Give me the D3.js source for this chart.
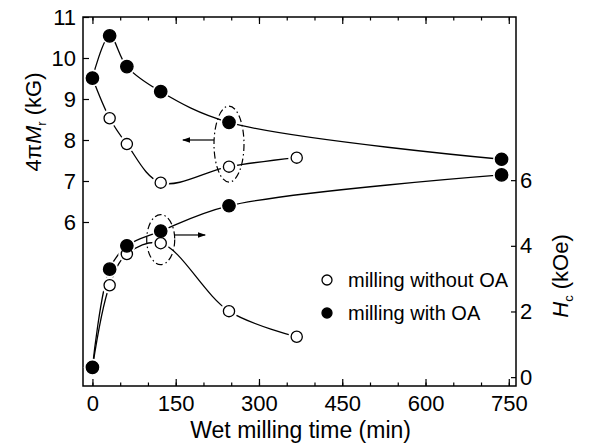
<!DOCTYPE html>
<html>
<head>
<meta charset="utf-8">
<script src="https://cdn.jsdelivr.net/npm/d3@7"></script>
<style>
  body { margin: 0; background: #fff; }
  svg text { font-family: "Liberation Sans", Arial, sans-serif; fill: #000; }
</style>
</head>
<body>
<svg id="chart" width="593" height="448"></svg>
<script>
// milling time (min)
const timesNoOA = [0, 31, 62, 123, 246, 368];
const timesOA = [0, 31, 62, 123, 246, 737];

// 4*pi*Mr (kG), left axis
const mrNoOA = [9.51, 8.53, 7.90, 6.96, 7.35, 7.57];
const mrOA = [9.51, 10.54, 9.79, 9.18, 8.43, 7.53];

// Hc (kOe), right axis
const hcNoOA = [0.3, 2.8, 3.75, 4.08, 2.01, 1.23];
const hcOA = [0.3, 3.29, 4.0, 4.45, 5.22, 6.16];

const xMajor = [0, 150, 300, 450, 600, 750];
const xMinor = d3.range(0, 751, 50);
const leftTicks = [6, 7, 8, 9, 10, 11];
const rightTicks = [0, 2, 4, 6];

const legendLabels = ["milling without OA", "milling with OA"];

const svg = d3.select("#chart");
const mLeft = 83, mRight = 516, mTop = 17, mBottom = 386;

const x = d3.scaleLinear().domain([-17, 763]).range([mLeft, mRight]);
const yL = d3.scaleLinear().domain([2, 11]).range([mBottom, mTop]);
const yR = d3.scaleLinear().domain([-0.27, 10.97]).range([mBottom, mTop]);

// axes
svg.append("g").attr("transform", `translate(0,${mBottom})`)
    .call(d3.axisBottom(x).tickValues(xMinor).tickSize(-3.5).tickFormat(""));
svg.append("g").attr("transform", `translate(0,${mBottom})`)
    .call(d3.axisBottom(x).tickValues(xMajor).tickSize(-7).tickPadding(9));
svg.append("g").attr("transform", `translate(0,${mTop})`)
    .call(d3.axisTop(x).tickValues(xMinor).tickSize(-3.5).tickFormat(""));
svg.append("g").attr("transform", `translate(0,${mTop})`)
    .call(d3.axisTop(x).tickValues(xMajor).tickSize(-7).tickFormat(""));
svg.append("g").attr("transform", `translate(${mLeft},0)`)
    .call(d3.axisLeft(yL).tickValues(leftTicks).tickSize(-6).tickPadding(7));
svg.append("g").attr("transform", `translate(${mRight},0)`)
    .call(d3.axisRight(yR).tickValues(rightTicks).tickSize(-5).tickPadding(4));

svg.selectAll(".domain").remove();
svg.selectAll(".tick line").attr("stroke", "#000").attr("stroke-width", 1.2);
svg.selectAll(".tick text").attr("font-size", 22).attr("font-family", "Liberation Sans, Arial, sans-serif");

svg.append("rect")
    .attr("x", mLeft).attr("y", mTop)
    .attr("width", mRight - mLeft).attr("height", mBottom - mTop)
    .attr("fill", "none").attr("stroke", "#000").attr("stroke-width", 1.5);

// axis titles
svg.append("text")
    .attr("x", (x(0) + x(750)) / 2).attr("y", 438)
    .attr("text-anchor", "middle").attr("font-size", 23)
    .text("Wet milling time (min)");

const tl = svg.append("text")
    .attr("transform", "translate(41,122) rotate(-90)")
    .attr("text-anchor", "middle").attr("font-size", 22);
tl.append("tspan").text("4\u03c0");
tl.append("tspan").attr("font-style", "italic").text("M");
tl.append("tspan").attr("font-size", 13).attr("dy", 5).text("r");
tl.append("tspan").attr("dy", -5).text(" (kG)");

const tr = svg.append("text")
    .attr("transform", "translate(568,276) rotate(-90)")
    .attr("text-anchor", "middle").attr("font-size", 22);
tr.append("tspan").attr("font-style", "italic").text("H");
tr.append("tspan").attr("font-size", 13).attr("dy", 5).text("c");
tr.append("tspan").attr("dy", -5).text("  (kOe)");

// curves
const series = [
  { t: timesNoOA, v: mrNoOA, y: yL, filled: false },
  { t: timesOA, v: mrOA, y: yL, filled: true },
  { t: timesNoOA, v: hcNoOA, y: yR, filled: false },
  { t: timesOA, v: hcOA, y: yR, filled: true }
];

const line = d3.line().curve(d3.curveCatmullRom.alpha(0.5));

series.forEach(s => {
  svg.append("path")
      .attr("d", line(s.t.map((t, i) => [x(t), s.y(s.v[i])])))
      .attr("fill", "none").attr("stroke", "#000").attr("stroke-width", 1.3);
});

// white halos so lines stop short of the markers
series.forEach(s => {
  svg.append("g").selectAll("circle")
      .data(s.t.map((t, i) => [t, s.v[i]]))
      .join("circle")
      .attr("cx", d => x(d[0])).attr("cy", d => s.y(d[1]))
      .attr("r", 8.5).attr("fill", "#fff");
});

// empty first, filled on top
[series[0], series[2], series[1], series[3]].forEach(s => {
  svg.append("g").selectAll("circle")
      .data(s.t.map((t, i) => [t, s.v[i]]))
      .join("circle")
      .attr("cx", d => x(d[0])).attr("cy", d => s.y(d[1]))
      .attr("r", s.filled ? 6.2 : 5.6)
      .attr("fill", s.filled ? "#000" : "#fff")
      .attr("stroke", "#000").attr("stroke-width", 1.3);
});

// dash-dot ellipses with arrows pointing to the relevant axis
svg.append("defs").append("marker")
    .attr("id", "arrow").attr("viewBox", "0 0 10 10")
    .attr("refX", 9).attr("refY", 5)
    .attr("markerWidth", 7).attr("markerHeight", 7)
    .attr("orient", "auto-start-reverse")
    .append("path").attr("d", "M0,1.5L10,5L0,8.5Z").attr("fill", "#000");

const dashDot = "7,3,1.5,3";

svg.append("ellipse")
    .attr("cx", x(246)).attr("cy", yL(7.9))
    .attr("rx", 15).attr("ry", 38)
    .attr("fill", "none").attr("stroke", "#000").attr("stroke-width", 1.2)
    .attr("stroke-dasharray", dashDot);
svg.append("line")
    .attr("x1", x(246) - 15).attr("y1", yL(8.0))
    .attr("x2", x(163)).attr("y2", yL(8.0))
    .attr("stroke", "#000").attr("stroke-width", 1.2)
    .attr("marker-end", "url(#arrow)");

svg.append("ellipse")
    .attr("cx", x(123)).attr("cy", yR(4.19))
    .attr("rx", 14).attr("ry", 25)
    .attr("fill", "none").attr("stroke", "#000").attr("stroke-width", 1.2)
    .attr("stroke-dasharray", dashDot);
svg.append("line")
    .attr("x1", x(123) + 14).attr("y1", yR(4.33))
    .attr("x2", x(203)).attr("y2", yR(4.33))
    .attr("stroke", "#000").attr("stroke-width", 1.2)
    .attr("marker-end", "url(#arrow)");

// legend
const legend = svg.append("g");
legendLabels.forEach((label, i) => {
  const cy = 280 + i * 33;
  legend.append("circle")
      .attr("cx", 327).attr("cy", cy).attr("r", 5)
      .attr("fill", i ? "#000" : "#fff")
      .attr("stroke", "#000").attr("stroke-width", 1.3);
  legend.append("text")
      .attr("x", 348).attr("y", cy + 7)
      .attr("font-size", 20)
      .text(label);
});
</script>
</body>
</html>
